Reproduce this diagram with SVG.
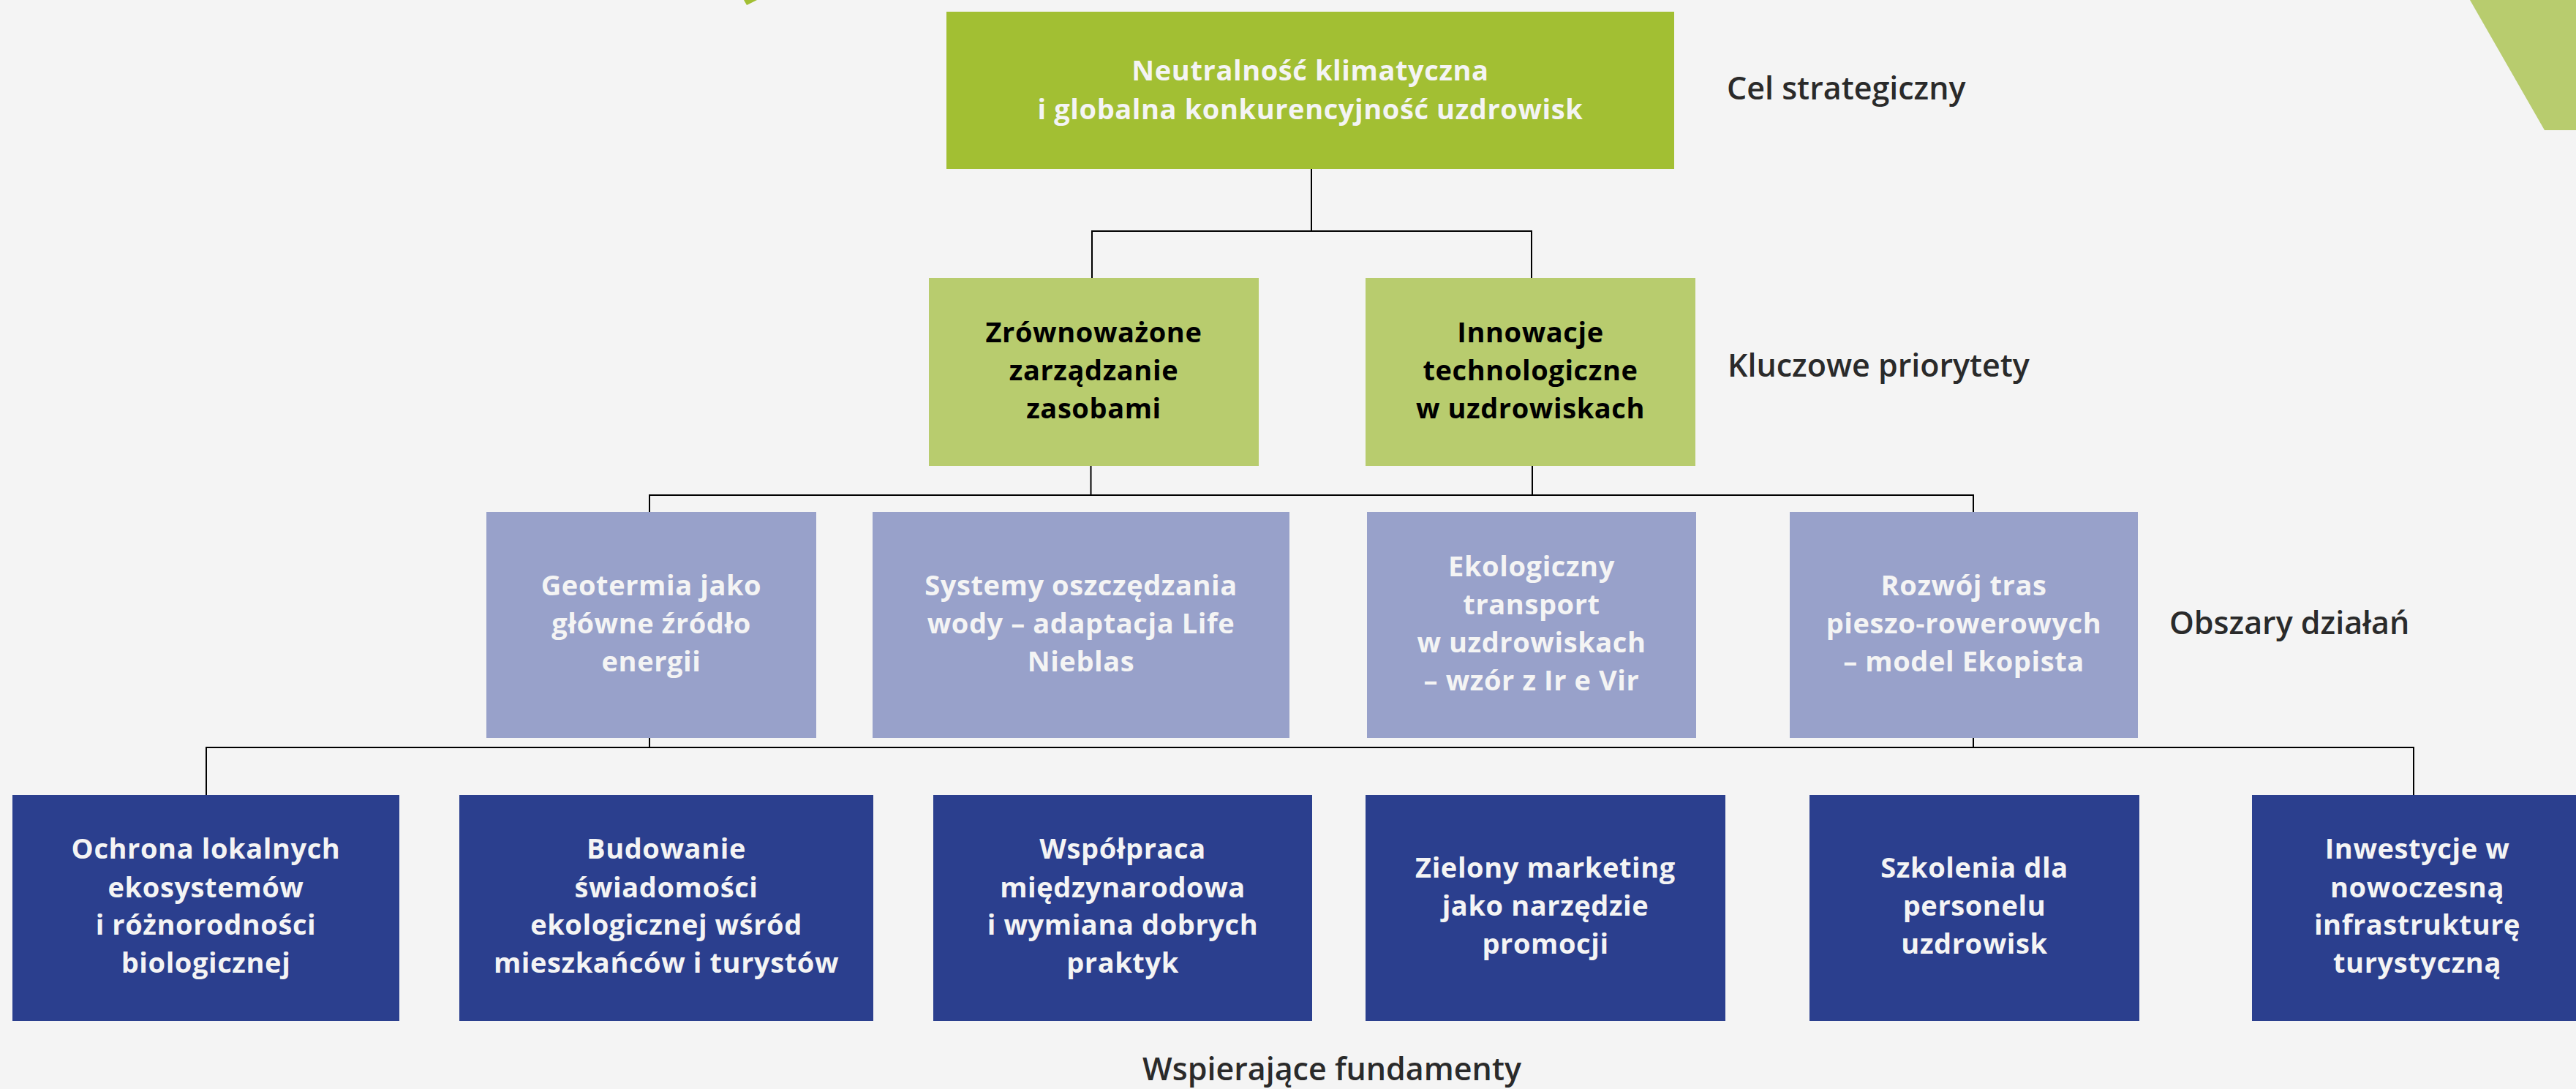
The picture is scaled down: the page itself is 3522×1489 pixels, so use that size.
<svg xmlns="http://www.w3.org/2000/svg" width="3522" height="1489" viewBox="0 0 3522 1489">
<style>
.bg{fill:#f4f4f4}
.goal{fill:#a2bf33}
.prio{fill:#b8cc6e}
.act{fill:#98a1ca}
.fund{fill:#2b3f8e}
.t{font-family:"Open Sans","Noto Sans","Liberation Sans",sans-serif;font-size:38px;font-weight:700;letter-spacing:0.6px;text-anchor:middle}
.w{fill:#f4f4f4}
.k{fill:#000000}
.lbl{font-family:"Open Sans","Noto Sans","Liberation Sans",sans-serif;font-size:43px;font-weight:600;fill:#2a2a2a}
.c{fill:none;stroke:#000;stroke-width:2}
</style>
<rect class="bg" x="0" y="0" width="3522" height="1489"/>
<polygon points="1017,0 1035,0 1021,7" fill="#a2bf33"/>
<polygon points="3377,0 3522,0 3522,178 3479,178" fill="#b8cc6e"/>

<g id="connectors">
<path class="c" d="M1793 231 V316" stroke-width="1.5"/>
<path class="c" d="M1493 380 V316 H2094 V380"/>
<path class="c" d="M1491.5 637 V677"/>
<path class="c" d="M2095 637 V677"/>
<path class="c" d="M888 700 V677 H2698 V700"/>
<path class="c" d="M888 1009 V1022"/>
<path class="c" d="M2698 1009 V1022"/>
<path class="c" d="M282 1087 V1022 H3300 V1087"/>
</g>

<g id="goal">
<rect class="goal" x="1294" y="16" width="995" height="215"/>
<text class="t w" x="1791.5" y="110">Neutralność klimatyczna</text>
<text class="t w" x="1791.5" y="163">i globalna konkurencyjność uzdrowisk</text>
</g>

<g id="prio1">
<rect class="prio" x="1270" y="380" width="451" height="257"/>
<text class="t k" x="1495.5" y="468">Zrównoważone</text>
<text class="t k" x="1495.5" y="520">zarządzanie</text>
<text class="t k" x="1495.5" y="572">zasobami</text>
</g>
<g id="prio2">
<rect class="prio" x="1867" y="380" width="451" height="257"/>
<text class="t k" x="2092.5" y="468">Innowacje</text>
<text class="t k" x="2092.5" y="520">technologiczne</text>
<text class="t k" x="2092.5" y="572">w uzdrowiskach</text>
</g>

<g id="act1">
<rect class="act" x="665" y="700" width="451" height="309"/>
<text class="t w" x="890.5" y="814">Geotermia jako</text>
<text class="t w" x="890.5" y="866">główne źródło</text>
<text class="t w" x="890.5" y="918">energii</text>
</g>
<g id="act2">
<rect class="act" x="1193" y="700" width="570" height="309"/>
<text class="t w" x="1478" y="814">Systemy oszczędzania</text>
<text class="t w" x="1478" y="866">wody – adaptacja Life</text>
<text class="t w" x="1478" y="918">Nieblas</text>
</g>
<g id="act3">
<rect class="act" x="1869" y="700" width="450" height="309"/>
<text class="t w" x="2094" y="788">Ekologiczny</text>
<text class="t w" x="2094" y="840">transport</text>
<text class="t w" x="2094" y="892">w uzdrowiskach</text>
<text class="t w" x="2094" y="944">– wzór z Ir e Vir</text>
</g>
<g id="act4">
<rect class="act" x="2447" y="700" width="476" height="309"/>
<text class="t w" x="2685" y="814">Rozwój tras</text>
<text class="t w" x="2685" y="866">pieszo-rowerowych</text>
<text class="t w" x="2685" y="918">– model Ekopista</text>
</g>

<g id="fund1">
<rect class="fund" x="17" y="1087" width="529" height="309"/>
<text class="t w" x="281.5" y="1174">Ochrona lokalnych</text>
<text class="t w" x="281.5" y="1227">ekosystemów</text>
<text class="t w" x="281.5" y="1278">i różnorodności</text>
<text class="t w" x="281.5" y="1330">biologicznej</text>
</g>
<g id="fund2">
<rect class="fund" x="628" y="1087" width="566" height="309"/>
<text class="t w" x="911" y="1174">Budowanie</text>
<text class="t w" x="911" y="1227">świadomości</text>
<text class="t w" x="911" y="1278">ekologicznej wśród</text>
<text class="t w" x="911" y="1330">mieszkańców i turystów</text>
</g>
<g id="fund3">
<rect class="fund" x="1276" y="1087" width="518" height="309"/>
<text class="t w" x="1535" y="1174">Współpraca</text>
<text class="t w" x="1535" y="1227">międzynarodowa</text>
<text class="t w" x="1535" y="1278">i wymiana dobrych</text>
<text class="t w" x="1535" y="1330">praktyk</text>
</g>
<g id="fund4">
<rect class="fund" x="1867" y="1087" width="492" height="309"/>
<text class="t w" x="2113" y="1200">Zielony marketing</text>
<text class="t w" x="2113" y="1252">jako narzędzie</text>
<text class="t w" x="2113" y="1304">promocji</text>
</g>
<g id="fund5">
<rect class="fund" x="2474" y="1087" width="451" height="309"/>
<text class="t w" x="2699.5" y="1200">Szkolenia dla</text>
<text class="t w" x="2699.5" y="1252">personelu</text>
<text class="t w" x="2699.5" y="1304">uzdrowisk</text>
</g>
<g id="fund6">
<rect class="fund" x="3079" y="1087" width="452" height="309"/>
<text class="t w" x="3305" y="1174">Inwestycje w</text>
<text class="t w" x="3305" y="1227">nowoczesną</text>
<text class="t w" x="3305" y="1278">infrastrukturę</text>
<text class="t w" x="3305" y="1330">turystyczną</text>
</g>

<g id="labels">
<text class="lbl" x="2361" y="136">Cel strategiczny</text>
<text class="lbl" x="2362" y="515">Kluczowe priorytety</text>
<text class="lbl" x="2966" y="867">Obszary działań</text>
<text class="lbl" x="1821" y="1477" text-anchor="middle">Wspierające fundamenty</text>
</g>
</svg>
